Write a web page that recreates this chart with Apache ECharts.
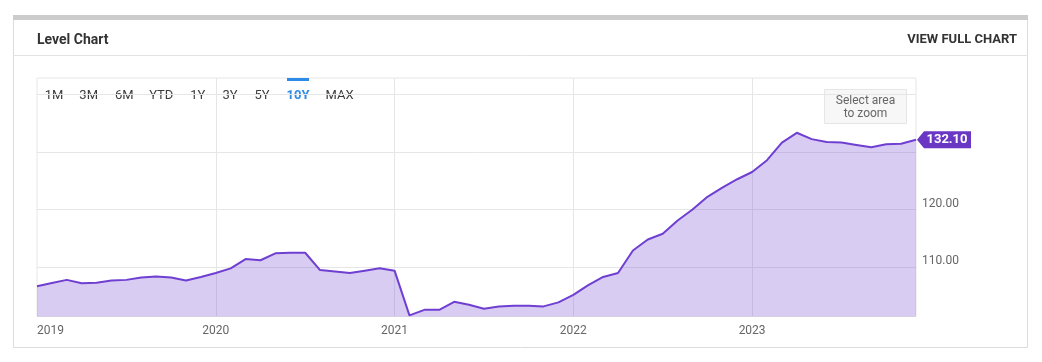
<!DOCTYPE html>
<html>
<head>
<meta charset="utf-8">
<script src="https://cdn.jsdelivr.net/npm/echarts@6/dist/echarts.min.js"></script>
<style>
  html, body { margin: 0; padding: 0; background: #ffffff; }
  #chart { width: 1042px; height: 362px; }
</style>
</head>
<body>
<div id="chart"></div>
<script>
// ---- data ----
const categories = [
  '2019-01','2019-02','2019-03','2019-04','2019-05','2019-06','2019-07','2019-08','2019-09','2019-10','2019-11','2019-12',
  '2020-01','2020-02','2020-03','2020-04','2020-05','2020-06','2020-07','2020-08','2020-09','2020-10','2020-11','2020-12',
  '2021-01','2021-02','2021-03','2021-04','2021-05','2021-06','2021-07','2021-08','2021-09','2021-10','2021-11','2021-12',
  '2022-01','2022-02','2022-03','2022-04','2022-05','2022-06','2022-07','2022-08','2022-09','2022-10','2022-11','2022-12',
  '2023-01','2023-02','2023-03','2023-04','2023-05','2023-06','2023-07','2023-08','2023-09','2023-10','2023-11','2023-12'
];
const levels = [
  106.7, 107.25, 107.8, 107.2, 107.3, 107.7, 107.8, 108.2, 108.4, 108.2, 107.7, 108.3,
  109.0, 109.8, 111.4, 111.2, 112.4, 112.5, 112.5, 109.5, 109.25, 109.0, 109.4, 109.8,
  109.4, 101.65, 102.6, 102.6, 104.0, 103.5, 102.8, 103.2, 103.3, 103.3, 103.2, 103.9,
  105.2, 106.9, 108.3, 109.0, 112.9, 114.8, 115.8, 118.1, 120.0, 122.2, 123.8, 125.25,
  126.5, 128.55, 131.6, 133.3, 132.2, 131.7, 131.6, 131.2, 130.8, 131.3, 131.4, 132.1
];
const yGridValues = [110, 120, 130, 140];
const yLabelValues = [110, 120];
const rangeButtons = ['1M', '3M', '6M', 'YTD', '1Y', '3Y', '5Y', '10Y', 'MAX'];
const activeRange = '10Y';
const title = 'Level Chart';
const linkText = 'VIEW FULL CHART';
const zoomHint = 'Select area\nto zoom';

// ---- layout ----
const buttonCenters = [54, 88.7, 124.3, 161.3, 197.8, 230, 262, 298, 339.5];
const FONT = 'Roboto, "Noto Sans", sans-serif';
const lastIdx = levels.length - 1;

const graphics = [
  { type: 'rect', shape: { x: 13.5, y: 15.5, width: 1014, height: 332 },
    style: { fill: null, stroke: '#dcdcdc', lineWidth: 1 } },
  { type: 'rect', shape: { x: 13, y: 15, width: 1015, height: 5 },
    style: { fill: '#cccccc' } },
  { type: 'line', shape: { x1: 13, y1: 55.5, x2: 1028, y2: 55.5 },
    style: { stroke: '#e3e3e3', lineWidth: 1 } },
  { type: 'text', x: 37, y: 40,
    style: { text: title, font: 'bold 14px ' + FONT, fill: '#333333', textAlign: 'left', textVerticalAlign: 'middle' } },
  { type: 'text', x: 1017, y: 40,
    style: { text: linkText, font: 'bold 13px ' + FONT, fill: '#333333', textAlign: 'right', textVerticalAlign: 'middle' } },
  { type: 'rect', shape: { x: 824.5, y: 89.5, width: 82, height: 34 },
    style: { fill: '#f7f7f7', stroke: '#e6e6e6', lineWidth: 1 } },
  { type: 'text', x: 865.5, y: 107.3,
    style: { text: zoomHint, font: '12px ' + FONT, fill: '#666666', textAlign: 'center', textVerticalAlign: 'middle', lineHeight: 13.5 } }
];
rangeButtons.forEach((b, i) => {
  const active = b === activeRange;
  graphics.push({ type: 'text', x: buttonCenters[i], y: 96,
    style: { text: b, font: (active ? 'bold ' : '') + '13px ' + FONT,
      fill: active ? '#2d8ae6' : '#3c3c3c', textAlign: 'center', textVerticalAlign: 'middle' } });
  if (active) {
    graphics.push({ type: 'rect', shape: { x: buttonCenters[i] - 11, y: 78, width: 22, height: 3 },
      style: { fill: '#2d8ae6' } });
  }
});

const chart = echarts.init(document.getElementById('chart'), null, { renderer: 'canvas' });
chart.setOption({
  animation: false,
  backgroundColor: '#ffffff',
  textStyle: { fontFamily: FONT },
  grid: {
    left: 37, right: 126, top: 78, bottom: 45.5,
    show: true, borderColor: '#e6e6e6', borderWidth: 1, backgroundColor: 'transparent'
  },
  xAxis: {
    type: 'category',
    data: categories,
    boundaryGap: false,
    axisLine: { show: false },
    axisTick: { show: false },
    axisLabel: {
      interval: (i) => i % 12 === 0,
      formatter: (v) => v.slice(0, 4),
      color: '#666666', fontSize: 12, margin: 8, alignMinLabel: 'left'
    },
    splitLine: {
      show: true,
      interval: (i) => i % 12 === 0 && i > 0,
      lineStyle: { color: '#e6e6e6', width: 1 }
    }
  },
  yAxis: {
    type: 'value',
    position: 'right',
    min: 101.45,
    max: 142.8,
    axisLine: { show: false },
    axisTick: { show: false, customValues: yGridValues },
    axisLabel: {
      customValues: yLabelValues,
      formatter: (v) => v.toFixed(2),
      color: '#666666', fontSize: 12, margin: 6, verticalAlign: 'bottom'
    },
    splitLine: { show: true, lineStyle: { color: '#e6e6e6', width: 1 } }
  },
  series: [{
    type: 'line',
    data: levels,
    symbol: 'none',
    clip: false,
    lineStyle: { color: '#6f3fd1', width: 2 },
    areaStyle: { color: 'rgba(118,72,212,0.28)', opacity: 1 },
    markPoint: {
      silent: true,
      symbol: 'path://M0,8.5 L7,0 L54,0 L54,17 L7,17 Z',
      symbolSize: [54, 17],
      symbolKeepAspect: false,
      symbolOffset: [28, 0],
      itemStyle: { color: '#6a36c4' },
      label: {
        show: true, position: 'inside', offset: [3, 0],
        color: '#ffffff', fontWeight: 'bold', fontSize: 13,
        formatter: (p) => Number(p.value).toFixed(2)
      },
      data: [{ coord: [categories[lastIdx], levels[lastIdx]], value: levels[lastIdx] }]
    }
  }],
  graphic: { z: 100, elements: graphics }
});
</script>
</body>
</html>
